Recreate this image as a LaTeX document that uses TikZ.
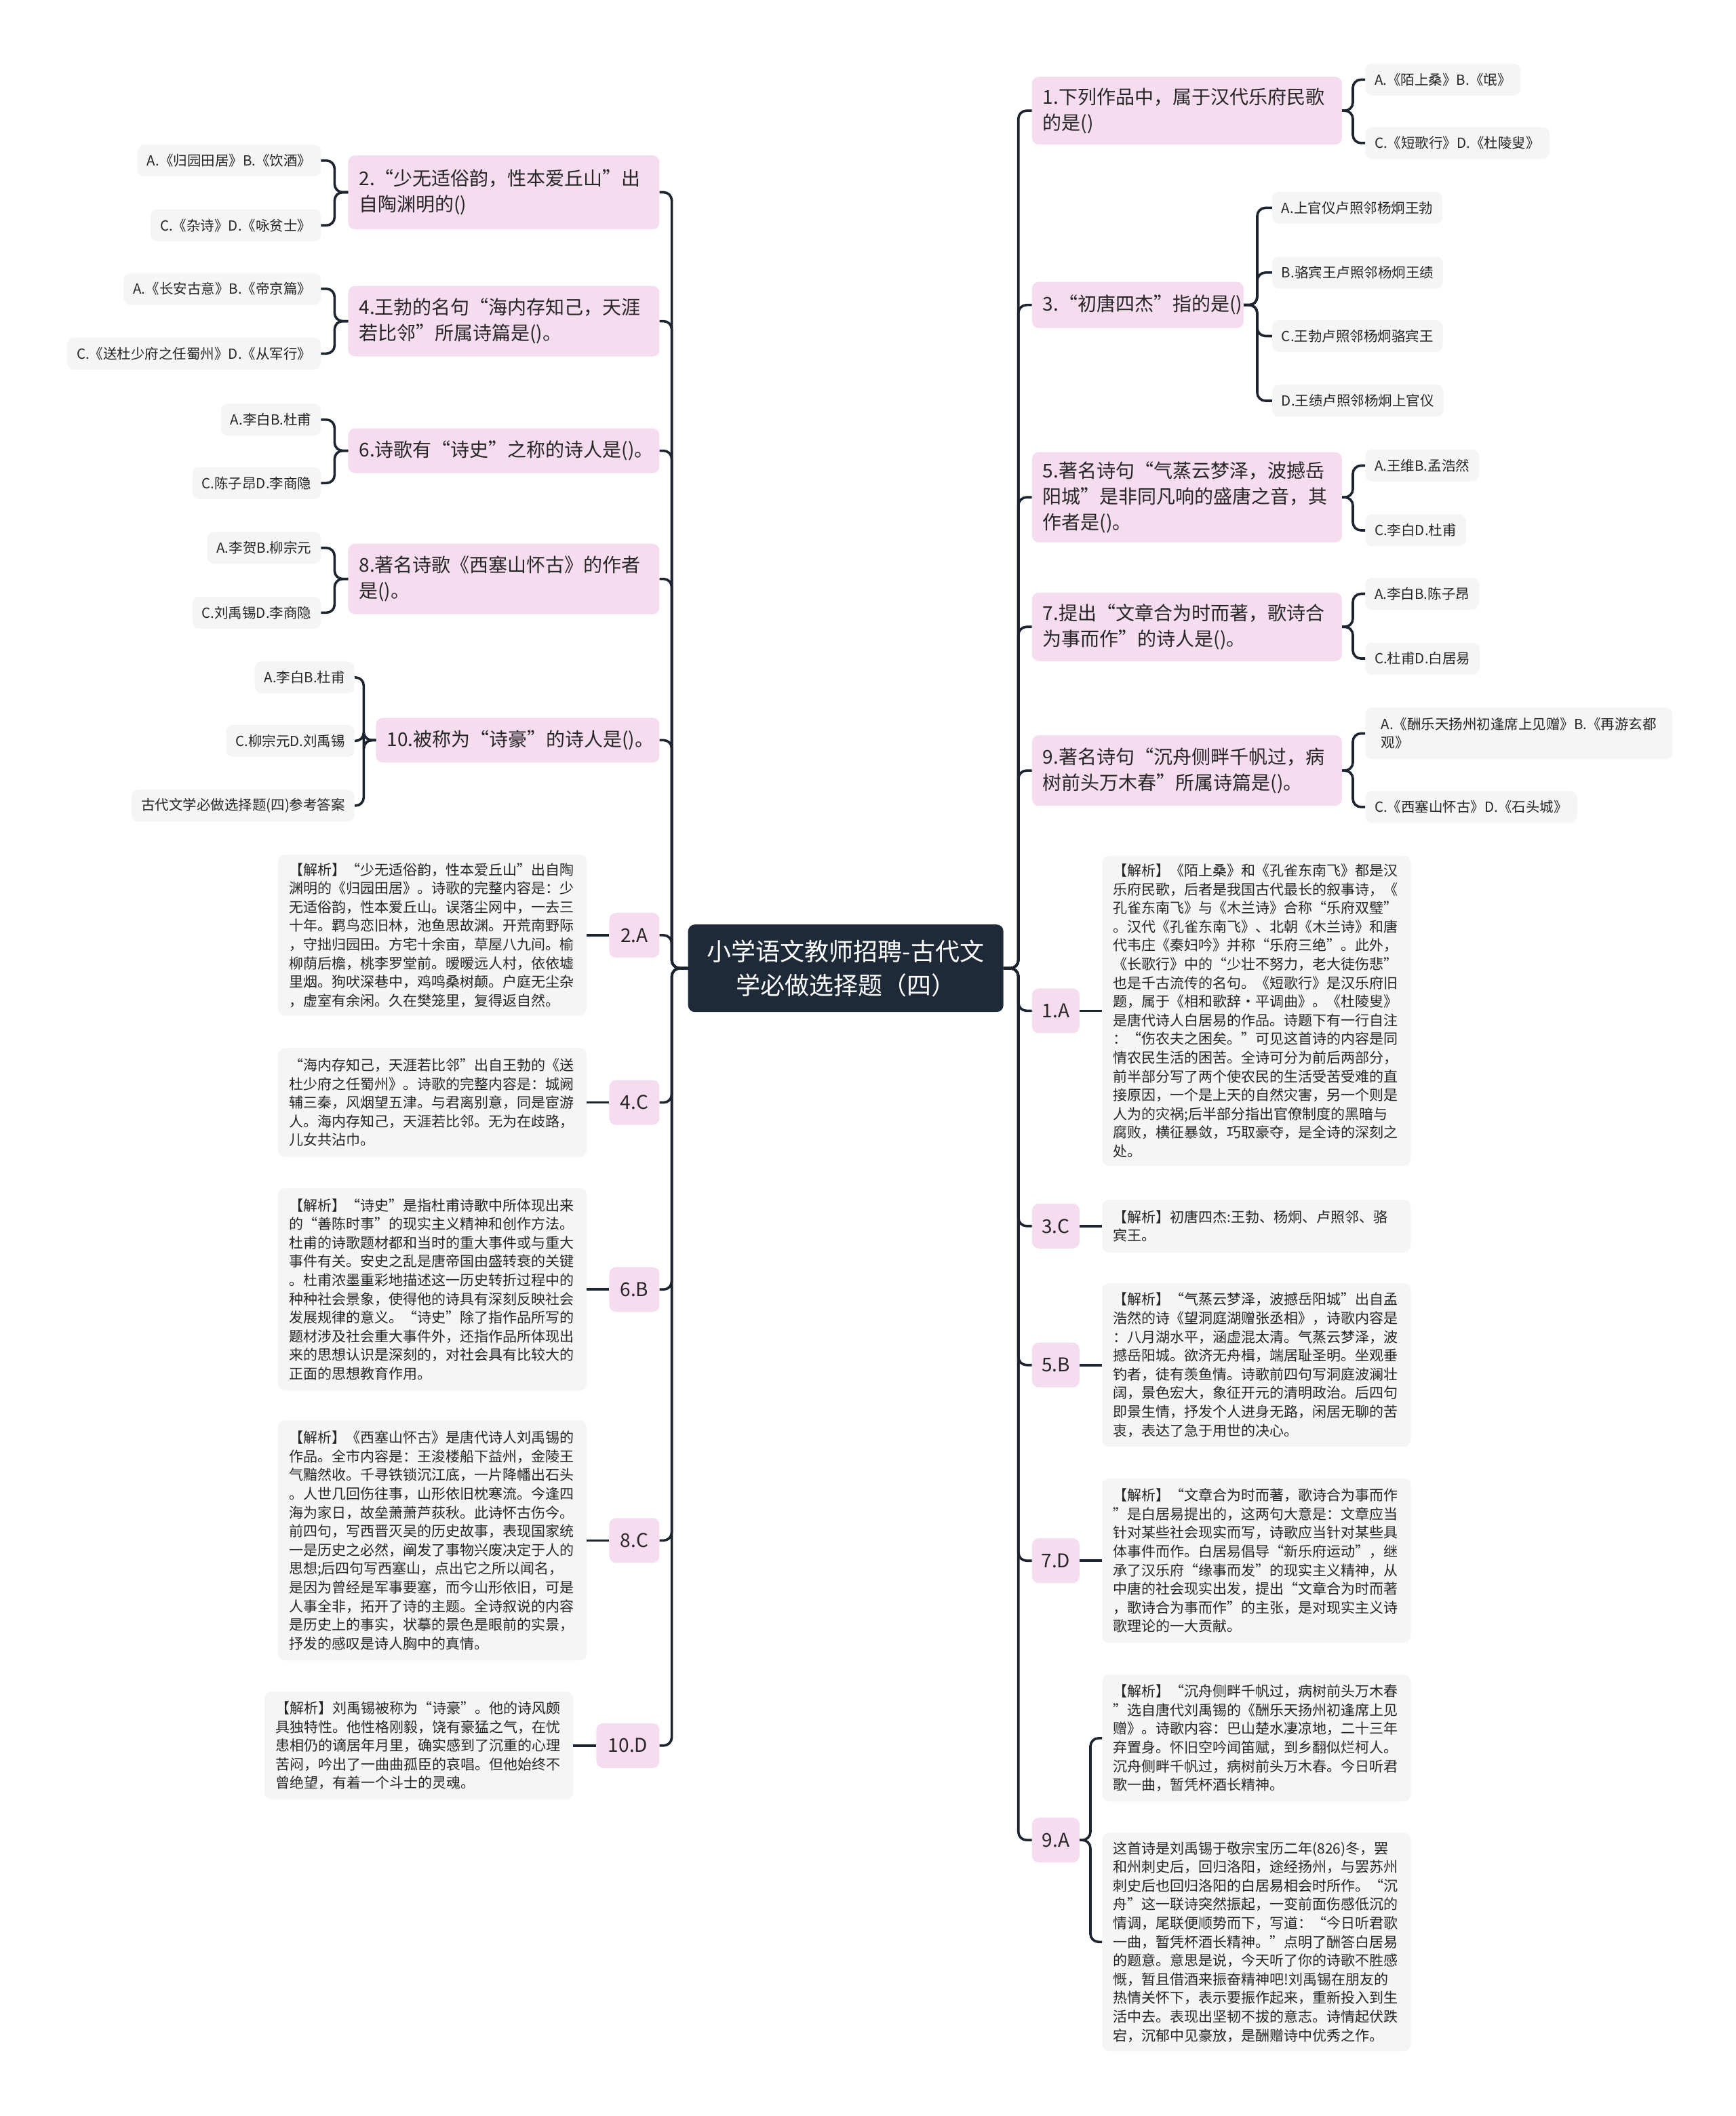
\documentclass[tikz,border=0pt]{standalone}
\usepackage{fontspec}
\setmainfont{Noto Sans CJK SC}
\setlength\parindent{0pt}
\definecolor{pinkq}{HTML}{F6DCEF}
\definecolor{grayb}{HTML}{F5F5F5}
\definecolor{rootc}{HTML}{1E2A38}
\definecolor{linec}{HTML}{1C2430}
\definecolor{txt}{HTML}{262626}
\begin{document}
\begin{tikzpicture}[x=1.98912pt,y=-1.98980pt,
  conn/.style={draw=linec,line width=3.6pt,rounded corners=12pt},
  rootn/.style={fill=rootc,rounded corners=10pt,text=white,align=center,font=\fontsize{36}{50}\selectfont,minimum width=465pt,minimum height=129pt,inner sep=0pt},
  qbox/.style={fill=pinkq,rounded corners=10pt,font=\fontsize{28}{38}\selectfont,text=txt,align=left,inner xsep=16pt,inner ysep=0pt},
  abox/.style={fill=pinkq,rounded corners=10pt,font=\fontsize{28}{38}\selectfont,text=txt,inner sep=0pt,minimum height=66pt,minimum width=74pt},
  obox/.style={fill=grayb,rounded corners=10pt,font=\fontsize{20.5}{27}\selectfont,text=txt,align=left,inner xsep=14pt,inner ysep=0pt,minimum height=47pt},
  ebox/.style={fill=grayb,rounded corners=10pt,font=\fontsize{21}{27.6}\selectfont,text=txt,align=left,inner xsep=16pt,inner ysep=0pt,text width=423pt}
]
\fill[white] (0,0) rectangle (1287,1568);
\useasboundingbox (0,0) rectangle (1287,1568);

% ---------- root ----------
\node[rootn] (root) at (627,717.5) {小学语文教师招聘-古代文\\学必做选择题（四）};

% ---------- left questions ----------
\node[qbox,text width=427pt,minimum height=109pt,anchor=east] (q2) at (489,142.5) {2.“少无适俗韵，性本爱丘山”出\\自陶渊明的()};
\node[qbox,text width=427pt,minimum height=104pt,anchor=east] (q4) at (489,238) {4.王勃的名句“海内存知己，天涯\\若比邻”所属诗篇是()。};
\node[qbox,text width=427pt,minimum height=66pt,anchor=east] (q6) at (489,334) {6.诗歌有“诗史”之称的诗人是()。};
\node[qbox,text width=427pt,minimum height=104pt,anchor=east] (q8) at (489,429) {8.著名诗歌《西塞山怀古》的作者\\是()。};
\node[qbox,text width=386pt,minimum height=66pt,anchor=east] (q10) at (489,548.5) {10.被称为“诗豪”的诗人是()。};

% ---------- left options ----------
\node[obox,anchor=east] (o2a) at (238,119) {A.《归园田居》B.《饮酒》};
\node[obox,anchor=east] (o2b) at (238,167) {C.《杂诗》D.《咏贫士》};
\node[obox,anchor=east] (o4a) at (238,214) {A.《长安古意》B.《帝京篇》};
\node[obox,anchor=east] (o4b) at (238,262) {C.《送杜少府之任蜀州》D.《从军行》};
\node[obox,anchor=east] (o6a) at (238,311) {A.李白B.杜甫};
\node[obox,anchor=east] (o6b) at (238,358) {C.陈子昂D.李商隐};
\node[obox,anchor=east] (o8a) at (238,406) {A.李贺B.柳宗元};
\node[obox,anchor=east] (o8b) at (238,454) {C.刘禹锡D.李商隐};
\node[obox,anchor=east] (o10a) at (263,502) {A.李白B.杜甫};
\node[obox,anchor=east] (o10b) at (263,549) {C.柳宗元D.刘禹锡};
\node[obox,anchor=east] (o10c) at (263,597) {古代文学必做选择题(四)参考答案};

% ---------- left answers ----------
\node[abox,anchor=east] (a2) at (489,693) {2.A};
\node[abox,anchor=east] (a4) at (489,817) {4.C};
\node[abox,anchor=east] (a6) at (489,955.5) {6.B};
\node[abox,anchor=east] (a8) at (489,1141.5) {8.C};
\node[abox,anchor=east,minimum width=93pt] (a10) at (489,1293.5) {10.D};

\node[ebox,anchor=east,minimum height=237pt] (e2) at (435,693) {【解析】“少无适俗韵，性本爱丘山”出自陶\\
渊明的《归园田居》。诗歌的完整内容是：少\\
无适俗韵，性本爱丘山。误落尘网中，一去三\\
十年。羁鸟恋旧林，池鱼思故渊。开荒南野际\\
，守拙归园田。方宅十余亩，草屋八九间。榆\\
柳荫后檐，桃李罗堂前。暧暧远人村，依依墟\\
里烟。狗吠深巷中，鸡鸣桑树颠。户庭无尘杂\\
，虚室有余闲。久在樊笼里，复得返自然。};
\node[ebox,anchor=east,minimum height=161pt] (e4) at (435,817) {“海内存知己，天涯若比邻”出自王勃的《送\\
杜少府之任蜀州》。诗歌的完整内容是：城阙\\
辅三秦，风烟望五津。与君离别意，同是宦游\\
人。海内存知己，天涯若比邻。无为在歧路，\\
儿女共沾巾。};
\node[ebox,anchor=east,minimum height=298pt] (e6) at (435,955.5) {【解析】“诗史”是指杜甫诗歌中所体现出来\\
的“善陈时事”的现实主义精神和创作方法。\\
杜甫的诗歌题材都和当时的重大事件或与重大\\
事件有关。安史之乱是唐帝国由盛转衰的关键\\
。杜甫浓墨重彩地描述这一历史转折过程中的\\
种种社会景象，使得他的诗具有深刻反映社会\\
发展规律的意义。“诗史”除了指作品所写的\\
题材涉及社会重大事件外，还指作品所体现出\\
来的思想认识是深刻的，对社会具有比较大的\\
正面的思想教育作用。};
\node[ebox,anchor=east,minimum height=354pt] (e8) at (435,1141.5) {【解析】《西塞山怀古》是唐代诗人刘禹锡的\\
作品。全市内容是：王浚楼船下益州，金陵王\\
气黯然收。千寻铁锁沉江底，一片降幡出石头\\
。人世几回伤往事，山形依旧枕寒流。今逢四\\
海为家日，故垒萧萧芦荻秋。此诗怀古伤今。\\
前四句，写西晋灭吴的历史故事，表现国家统\\
一是历史之必然，阐发了事物兴废决定于人的\\
思想;后四句写西塞山，点出它之所以闻名，\\
是因为曾经是军事要塞，而今山形依旧，可是\\
人事全非，拓开了诗的主题。全诗叙说的内容\\
是历史上的事实，状摹的景色是眼前的实景，\\
抒发的感叹是诗人胸中的真情。};
\node[ebox,anchor=east,minimum height=159pt] (e10) at (425,1293.5) {【解析】刘禹锡被称为“诗豪”。他的诗风颇\\
具独特性。他性格刚毅，饶有豪猛之气，在忧\\
患相仍的谪居年月里，确实感到了沉重的心理\\
苦闷，吟出了一曲曲孤臣的哀唱。但他始终不\\
曾绝望，有着一个斗士的灵魂。};

% ---------- right questions ----------
\node[qbox,text width=425pt,minimum height=100pt,anchor=west] (q1) at (765,82) {1.下列作品中，属于汉代乐府民歌\\的是()};
\node[qbox,text width=280pt,minimum height=68pt,anchor=west] (q3) at (765,226) {3.“初唐四杰”指的是()};
\node[qbox,text width=425pt,minimum height=133pt,anchor=west] (q5) at (765,368.5) {5.著名诗句“气蒸云梦泽，波撼岳\\阳城”是非同凡响的盛唐之音，其\\作者是()。};
\node[qbox,text width=425pt,minimum height=101pt,anchor=west] (q7) at (765,464.5) {7.提出“文章合为时而著，歌诗合\\为事而作”的诗人是()。};
\node[qbox,text width=425pt,minimum height=104pt,anchor=west] (q9) at (765,571) {9.著名诗句“沉舟侧畔千帆过，病\\树前头万木春”所属诗篇是()。};

% ---------- right options ----------
\node[obox,anchor=west] (o1a) at (1012,59) {A.《陌上桑》B.《氓》};
\node[obox,anchor=west] (o1b) at (1012,106) {C.《短歌行》D.《杜陵叟》};
\node[obox,anchor=west] (o3a) at (943,154) {A.上官仪卢照邻杨炯王勃};
\node[obox,anchor=west] (o3b) at (943,202) {B.骆宾王卢照邻杨炯王绩};
\node[obox,anchor=west] (o3c) at (943,249) {C.王勃卢照邻杨炯骆宾王};
\node[obox,anchor=west] (o3d) at (943,297) {D.王绩卢照邻杨炯上官仪};
\node[obox,anchor=west] (o5a) at (1012,345) {A.王维B.孟浩然};
\node[obox,anchor=west] (o5b) at (1012,393) {C.李白D.杜甫};
\node[obox,anchor=west] (o7a) at (1012,440) {A.李白B.陈子昂};
\node[obox,anchor=west] (o7b) at (1012,488) {C.杜甫D.白居易};
\node[obox,anchor=west,minimum height=76pt,minimum width=453pt] (o9a) at (1012,543.5) {A.《酬乐天扬州初逢席上见赠》B.《再游玄都\\观》};
\node[obox,anchor=west] (o9b) at (1012,598) {C.《西塞山怀古》D.《石头城》};

% ---------- right answers ----------
\node[abox,anchor=west,minimum width=70pt] (a1) at (765,749) {1.A};
\node[abox,anchor=west,minimum width=70pt] (a3) at (765,908.5) {3.C};
\node[abox,anchor=west,minimum width=70pt] (a5) at (765,1011.5) {5.B};
\node[abox,anchor=west,minimum width=70pt] (a7) at (765,1156.5) {7.D};
\node[abox,anchor=west,minimum width=70pt] (a9) at (765,1363.5) {9.A};

\node[ebox,anchor=west,minimum height=457pt] (e1) at (817,749) {【解析】《陌上桑》和《孔雀东南飞》都是汉\\
乐府民歌，后者是我国古代最长的叙事诗，《\\
孔雀东南飞》与《木兰诗》合称“乐府双璧”\\
。汉代《孔雀东南飞》、北朝《木兰诗》和唐\\
代韦庄《秦妇吟》并称“乐府三绝”。此外，\\
《长歌行》中的“少壮不努力，老大徒伤悲”\\
也是千古流传的名句。《短歌行》是汉乐府旧\\
题，属于《相和歌辞•平调曲》。《杜陵叟》\\
是唐代诗人白居易的作品。诗题下有一行自注\\
：“伤农夫之困矣。”可见这首诗的内容是同\\
情农民生活的困苦。全诗可分为前后两部分，\\
前半部分写了两个使农民的生活受苦受难的直\\
接原因，一个是上天的自然灾害，另一个则是\\
人为的灾祸;后半部分指出官僚制度的黑暗与\\
腐败，横征暴敛，巧取豪夺，是全诗的深刻之\\
处。};
\node[ebox,anchor=west,minimum height=78pt] (e3) at (817,908.5) {【解析】初唐四杰:王勃、杨炯、卢照邻、骆\\
宾王。};
\node[ebox,anchor=west,minimum height=241pt] (e5) at (817,1011.5) {【解析】“气蒸云梦泽，波撼岳阳城”出自孟\\
浩然的诗《望洞庭湖赠张丞相》，诗歌内容是\\
：八月湖水平，涵虚混太清。气蒸云梦泽，波\\
撼岳阳城。欲济无舟楫，端居耻圣明。坐观垂\\
钓者，徒有羡鱼情。诗歌前四句写洞庭波澜壮\\
阔，景色宏大，象征开元的清明政治。后四句\\
即景生情，抒发个人进身无路，闲居无聊的苦\\
衷，表达了急于用世的决心。};
\node[ebox,anchor=west,minimum height=243pt] (e7) at (817,1156.5) {【解析】“文章合为时而著，歌诗合为事而作\\
”是白居易提出的，这两句大意是：文章应当\\
针对某些社会现实而写，诗歌应当针对某些具\\
体事件而作。白居易倡导“新乐府运动”，继\\
承了汉乐府“缘事而发”的现实主义精神，从\\
中唐的社会现实出发，提出“文章合为时而著\\
，歌诗合为事而作”的主张，是对现实主义诗\\
歌理论的一大贡献。};
\node[ebox,anchor=west,minimum height=187pt] (e9a) at (817,1288) {【解析】“沉舟侧畔千帆过，病树前头万木春\\
”选自唐代刘禹锡的《酬乐天扬州初逢席上见\\
赠》。诗歌内容：巴山楚水凄凉地，二十三年\\
弃置身。怀旧空吟闻笛赋，到乡翻似烂柯人。\\
沉舟侧畔千帆过，病树前头万木春。今日听君\\
歌一曲，暂凭杯酒长精神。};
\node[ebox,anchor=west,minimum height=322pt] (e9b) at (817,1439) {这首诗是刘禹锡于敬宗宝历二年(826)冬，罢\\
和州刺史后，回归洛阳，途经扬州，与罢苏州\\
刺史后也回归洛阳的白居易相会时所作。“沉\\
舟”这一联诗突然振起，一变前面伤感低沉的\\
情调，尾联便顺势而下，写道：“今日听君歌\\
一曲，暂凭杯酒长精神。”点明了酬答白居易\\
的题意。意思是说，今天听了你的诗歌不胜感\\
慨，暂且借酒来振奋精神吧!刘禹锡在朋友的\\
热情关怀下，表示要振作起来，重新投入到生\\
活中去。表现出坚韧不拔的意志。诗情起伏跌\\
宕，沉郁中见豪放，是酬赠诗中优秀之作。};

% ---------- connectors: left trunk ----------
\foreach \c in {q2,q4,q6,q8,q10,a2,a4,a6,a8,a10}
  \draw[conn] (root.west) -- ++(-12,0) |- (\c.east);
% ---------- connectors: right trunk ----------
\foreach \c in {q1,q3,q5,q7,q9,a1,a3,a5,a7,a9}
  \draw[conn] (root.east) -- ++(11,0) |- (\c.west);

% ---------- option brackets ----------
\foreach \q/\o in {q2/o2a,q2/o2b,q4/o4a,q4/o4b,q6/o6a,q6/o6b,q8/o8a,q8/o8b}
  \draw[conn] (\q.west) -- ++(-10,0) |- (\o.east);
\foreach \o in {o10a,o10b,o10c}
  \draw[conn] (q10.west) -- ++(-9,0) |- (\o.east);
\foreach \q/\o in {q1/o1a,q1/o1b,q5/o5a,q5/o5b,q7/o7a,q7/o7b,q9/o9a,q9/o9b}
  \draw[conn] (\q.east) -- ++(8,0) |- (\o.west);
\foreach \o in {o3a,o3b,o3c,o3d}
  \draw[conn] (q3.east) -- ++(10,0) |- (\o.west);

% ---------- answers to explanations ----------
\foreach \a/\e in {a2/e2,a4/e4,a6/e6,a8/e8,a10/e10}
  \draw[conn] (\a.west) -- (\e.east);
\foreach \a/\e in {a1/e1,a3/e3,a5/e5,a7/e7}
  \draw[conn] (\a.east) -- (\e.west);
\foreach \e in {e9a,e9b}
  \draw[conn] (a9.east) -- ++(8,0) |- (\e.west);
\end{tikzpicture}
\end{document}
